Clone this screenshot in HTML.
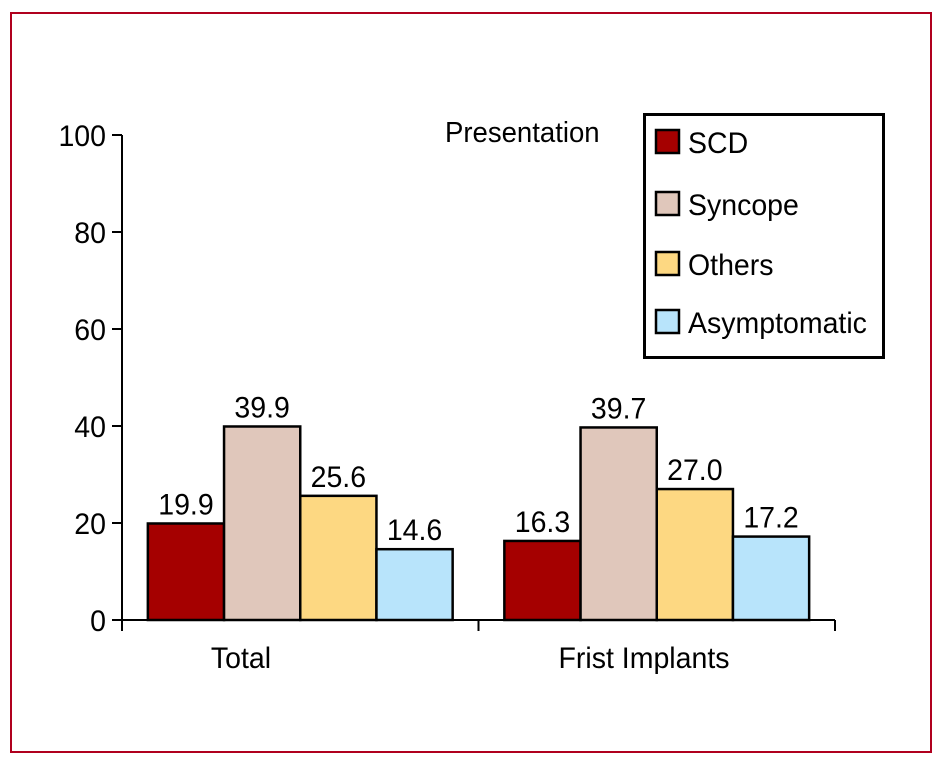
<!DOCTYPE html>
<html><head><meta charset="utf-8"><style>
body{margin:0;background:#fff;}
svg text{font-family:"Liberation Sans",sans-serif;fill:#000;}
</style></head><body>
<svg width="941" height="770" xmlns="http://www.w3.org/2000/svg">
<rect x="11" y="13" width="920" height="739" fill="none" stroke="#b0001e" stroke-width="2"/>
<g id="plot"></g>
<text transform="translate(445,142) scale(0.95,1)" font-size="29">Presentation</text>
<g>
<rect x="644.5" y="114.5" width="239" height="243" fill="#fff" stroke="#000" stroke-width="3"/>
<g id="legend"></g>
</g>
</svg>
<script>
const categories = ["Total", "Frist Implants"];
const seriesNames = ["SCD", "Syncope", "Others", "Asymptomatic"];
const scdValues = [19.9, 16.3];
const syncopeValues = [39.9, 39.7];
const othersValues = [25.6, 27.0];
const asymValues = [14.6, 17.2];
const yTicks = [0, 20, 40, 60, 80, 100];
const colors = ["#a50000", "#e0c7bb", "#fdd882", "#b8e4fb"];

const NS = "http://www.w3.org/2000/svg";
const plot = document.getElementById("plot");
const x0 = 122, x1 = 835, yBase = 620, yTop = 135;
const y = v => yBase - (v / 100) * (yBase - yTop);
const band = (x1 - x0) / categories.length;
const barW = 76.2;
function mk(tag, attrs, parent) {
  const e = document.createElementNS(NS, tag);
  for (const k in attrs) e.setAttribute(k, attrs[k]);
  parent.appendChild(e);
  return e;
}
function txt(x, yy, anchor, parent) {
  return mk("text", {transform: "translate(" + x + "," + yy + ") scale(0.95,1)", "font-size": 30, "text-anchor": anchor}, parent);
}
const ax = mk("line", {x1: x0, y1: yTop, x2: x0, y2: yBase, stroke: "#000", "stroke-width": 2}, plot);


const xa = mk("line", {x1: x0, y1: yBase, x2: x1, y2: yBase, stroke: "#000", "stroke-width": 2}, plot);


yTicks.forEach(t => {
  const l = mk("line", {x1: x0 - 10, y1: y(t), x2: x0, y2: y(t), stroke: "#000", "stroke-width": 2}, plot);
  
  
  const tx = txt(x0 - 16, y(t) + 11, "end", plot);
  tx.textContent = t;
  
  
});
for (let i = 0; i <= categories.length; i++) {
  const l = mk("line", {x1: x0 + i * band, y1: yBase, x2: x0 + i * band, y2: yBase + 11, stroke: "#000", "stroke-width": 2}, plot);
  
  
}
const allSeries = [scdValues, syncopeValues, othersValues, asymValues];
categories.forEach((c, ci) => {
  const cx = x0 + band * (ci + 0.5);
  const start = cx - barW * allSeries.length / 2;
  allSeries.forEach((vals, si) => {
    const v = vals[ci];
    const bx = start + si * barW;
    const r = mk("rect", {x: bx, y: y(v), width: barW, height: yBase - y(v), fill: colors[si], stroke: "#000", "stroke-width": 2.5}, plot);
    
    
    const t = txt(bx + barW / 2, y(v) - 9, "middle", plot);
    t.textContent = v.toFixed(1);
    
    
  });
  const lt = txt(ci === 0 ? 241 : 644, 668, "middle", plot);
  lt.textContent = c;
  
  
});
const lg = document.getElementById("legend");
const ly = [130, 192, 252, 310];
seriesNames.forEach((n, i) => {
  const r = mk("rect", {x: 656, y: ly[i], width: 23, height: 23, fill: colors[i], stroke: "#000", "stroke-width": 2.5}, lg);
  
  
  const t = txt(688, ly[i] + 23, "start", lg);
  t.textContent = n;
  
  
});
</script>
</body></html>
